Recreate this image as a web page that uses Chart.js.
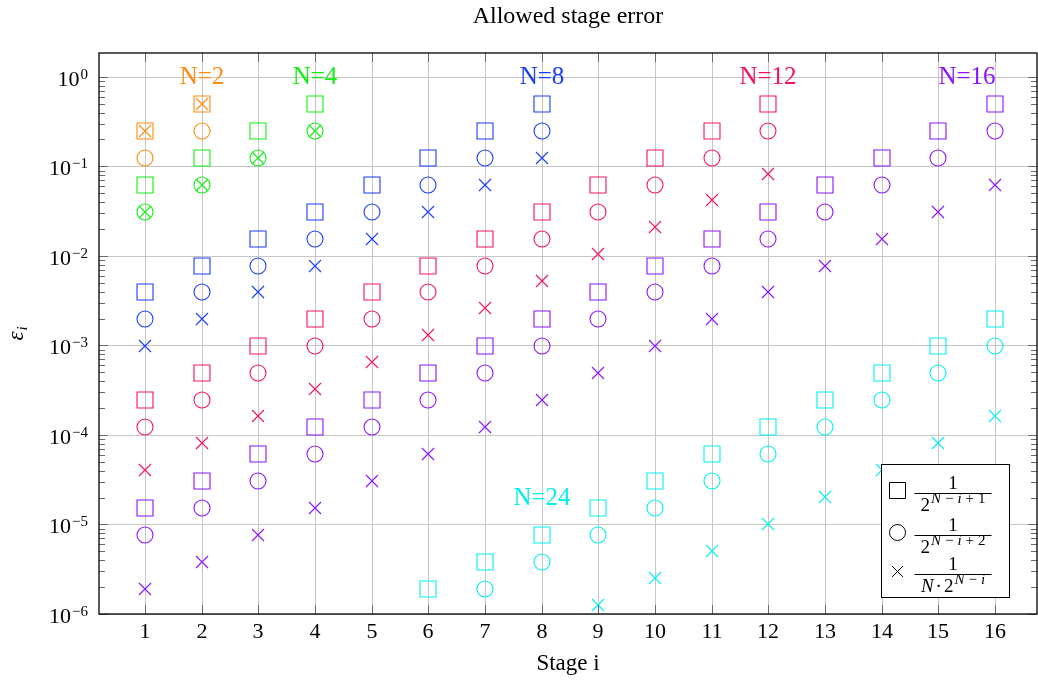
<!DOCTYPE html>
<html>
<head>
<meta charset="utf-8">
<title>Allowed stage error</title>
<script src="https://cdn.jsdelivr.net/npm/chart.js@4.4.1/dist/chart.umd.min.js"></script>
<style>
  html, body { margin: 0; padding: 0; background: #fff; }
  canvas { display: block; }
</style>
</head>
<body>
<canvas id="errChart" width="1038" height="682"></canvas>
<script>
// stage index on the x axis
const stages = [1, 2, 3, 4, 5, 6, 7, 8, 9, 10, 11, 12, 13, 14, 15, 16];

// error bounds per N, index 0 = stage 1 (sq: 1/2^(N-i+1), ci: 1/2^(N-i+2), cr: 1/(N*2^(N-i)))
const sqN2 = [0.25, 0.5];
const ciN2 = [0.125, 0.25];
const crN2 = [0.25, 0.5];

const sqN4 = [0.0625, 0.125, 0.25, 0.5];
const ciN4 = [0.03125, 0.0625, 0.125, 0.25];
const crN4 = [0.03125, 0.0625, 0.125, 0.25];

const sqN8 = [3.906e-3, 7.813e-3, 0.01563, 0.03125, 0.0625, 0.125, 0.25, 0.5];
const ciN8 = [1.953e-3, 3.906e-3, 7.813e-3, 0.01563, 0.03125, 0.0625, 0.125, 0.25];
const crN8 = [9.766e-4, 1.953e-3, 3.906e-3, 7.813e-3, 0.01563, 0.03125, 0.0625, 0.125];

const sqN12 = [2.441e-4, 4.883e-4, 9.766e-4, 1.953e-3, 3.906e-3, 7.813e-3, 0.01563, 0.03125, 0.0625, 0.125, 0.25, 0.5];
const ciN12 = [1.221e-4, 2.441e-4, 4.883e-4, 9.766e-4, 1.953e-3, 3.906e-3, 7.813e-3, 0.01563, 0.03125, 0.0625, 0.125, 0.25];
const crN12 = [4.069e-5, 8.138e-5, 1.628e-4, 3.255e-4, 6.510e-4, 1.302e-3, 2.604e-3, 5.208e-3, 0.01042, 0.02083, 0.04167, 0.08333];

const sqN16 = [1.526e-5, 3.052e-5, 6.104e-5, 1.221e-4, 2.441e-4, 4.883e-4, 9.766e-4, 1.953e-3, 3.906e-3, 7.813e-3, 0.01563, 0.03125, 0.0625, 0.125, 0.25, 0.5];
const ciN16 = [7.629e-6, 1.526e-5, 3.052e-5, 6.104e-5, 1.221e-4, 2.441e-4, 4.883e-4, 9.766e-4, 1.953e-3, 3.906e-3, 7.813e-3, 0.01563, 0.03125, 0.0625, 0.125, 0.25];
const crN16 = [1.907e-6, 3.815e-6, 7.629e-6, 1.526e-5, 3.052e-5, 6.104e-5, 1.221e-4, 2.441e-4, 4.883e-4, 9.766e-4, 1.953e-3, 3.906e-3, 7.813e-3, 0.01563, 0.03125, 0.0625];

const sqN24 = [null, null, null, null, null, 1.907e-6, 3.815e-6, 7.629e-6, 1.526e-5, 3.052e-5, 6.104e-5, 1.221e-4, 2.441e-4, 4.883e-4, 9.766e-4, 1.953e-3];
const ciN24 = [null, null, null, null, null, null, 1.907e-6, 3.815e-6, 7.629e-6, 1.526e-5, 3.052e-5, 6.104e-5, 1.221e-4, 2.441e-4, 4.883e-4, 9.766e-4];
const crN24 = [null, null, null, null, null, null, null, null, 1.272e-6, 2.543e-6, 5.086e-6, 1.017e-5, 2.035e-5, 4.069e-5, 8.138e-5, 1.628e-4];

const groupNames = ['N=2', 'N=4', 'N=8', 'N=12', 'N=16', 'N=24'];
const groupColors = ['#ff8c10', '#10f010', '#1a3dff', '#f5145a', '#8c14ff', '#00f0f0'];
// where each N label sits (stage, value)
const labelStage = [2, 4, 8, 12, 15.5, 8];
const labelValue = [1, 1, 1, 1, 1, 2e-5];

// decade ticks on the y axis
const yTickValues = [1e-6, 1e-5, 1e-4, 1e-3, 1e-2, 1e-1, 1];
const yTickExp = ['\u22126', '\u22125', '\u22124', '\u22123', '\u22122', '\u22121', '0'];

const series = [
  [sqN2, ciN2, crN2],
  [sqN4, ciN4, crN4],
  [sqN8, ciN8, crN8],
  [sqN12, ciN12, crN12],
  [sqN16, ciN16, crN16],
  [sqN24, ciN24, crN24],
];

const markers = [
  { style: 'rect', radius: 11.3 },
  { style: 'circle', radius: 8 },
  { style: 'crossRot', radius: 8.5 },
];

const SERIF = '"Liberation Serif", "DejaVu Serif", serif';

function points(values) {
  return values
    .map((v, k) => ({ x: stages[k], y: v }))
    .filter(p => p.y !== null);
}

const datasets = [];
series.forEach((group, g) => {
  group.forEach((vals, m) => {
    datasets.push({
      label: groupNames[g],
      data: points(vals),
      showLine: false,
      pointStyle: markers[m].style,
      pointRadius: markers[m].radius,
      pointBorderWidth: 1.1,
      pointBorderColor: groupColors[g],
      pointBackgroundColor: 'rgba(0,0,0,0)',
      borderColor: groupColors[g],
      backgroundColor: 'rgba(0,0,0,0)',
    });
  });
});

// text made of pieces with different fonts / offsets
function runsWidth(ctx, runs) {
  let w = 0;
  runs.forEach(r => {
    ctx.font = r.font;
    w += (r.gap || 0) + ctx.measureText(r.text).width;
  });
  return w;
}
function drawRuns(ctx, x, y, runs) {
  runs.forEach(r => {
    x += r.gap || 0;
    ctx.font = r.font;
    ctx.fillText(r.text, x, y + (r.dy || 0));
    x += ctx.measureText(r.text).width;
  });
  return x;
}

const big = '19px ' + SERIF;
const bigIt = 'italic 19px ' + SERIF;
const sup = '15px ' + SERIF;
const supIt = 'italic 15px ' + SERIF;

const legendDenoms = [
  [{ text: '2', font: big }, { text: 'N', font: supIt, dy: -8, gap: 1 }, { text: '\u2212', font: sup, dy: -8, gap: 4 },
   { text: 'i', font: supIt, dy: -8, gap: 4 }, { text: '+', font: sup, dy: -8, gap: 4 }, { text: '1', font: sup, dy: -8, gap: 4 }],
  [{ text: '2', font: big }, { text: 'N', font: supIt, dy: -8, gap: 1 }, { text: '\u2212', font: sup, dy: -8, gap: 4 },
   { text: 'i', font: supIt, dy: -8, gap: 4 }, { text: '+', font: sup, dy: -8, gap: 4 }, { text: '2', font: sup, dy: -8, gap: 4 }],
  [{ text: 'N', font: bigIt }, { text: '\u00b7', font: big, gap: 2 }, { text: '2', font: big, gap: 2 },
   { text: 'N', font: supIt, dy: -8, gap: 1 }, { text: '\u2212', font: sup, dy: -8, gap: 4 }, { text: 'i', font: supIt, dy: -8, gap: 4 }],
];

function drawMarker(ctx, style, x, y) {
  ctx.beginPath();
  if (style === 'rect') {
    ctx.rect(x - 8, y - 8, 16, 16);
  } else if (style === 'circle') {
    ctx.arc(x, y, 8, 0, Math.PI * 2);
  } else {
    ctx.moveTo(x - 5.5, y - 5.5); ctx.lineTo(x + 5.5, y + 5.5);
    ctx.moveTo(x + 5.5, y - 5.5); ctx.lineTo(x - 5.5, y + 5.5);
  }
  ctx.stroke();
}

const decorations = {
  id: 'decorations',
  afterDatasetsDraw(chart) {
    const { ctx, chartArea: a, scales: { x, y } } = chart;
    ctx.save();

    // inner tick marks, major and minor
    ctx.strokeStyle = '#6a6a6a';
    ctx.lineWidth = 1;
    ctx.beginPath();
    stages.forEach(s => {
      const px = Math.round(x.getPixelForValue(s)) + 0.5;
      ctx.moveTo(px, a.bottom); ctx.lineTo(px, a.bottom - 9);
      ctx.moveTo(px, a.top); ctx.lineTo(px, a.top + 9);
    });
    yTickValues.forEach(v => {
      for (let k = 1; k <= 9; k++) {
        const val = v * k;
        if (val > y.max) break;
        const py = Math.round(y.getPixelForValue(val)) + 0.5;
        const len = k === 1 ? 9 : 6;
        ctx.moveTo(a.left, py); ctx.lineTo(a.left + len, py);
        ctx.moveTo(a.right, py); ctx.lineTo(a.right - len, py);
      }
    });
    ctx.stroke();

    // axis frame
    ctx.strokeStyle = '#000';
    ctx.lineWidth = 1.3;
    ctx.strokeRect(a.left, a.top, a.right - a.left, a.bottom - a.top);

    // N labels
    ctx.textAlign = 'center';
    ctx.textBaseline = 'alphabetic';
    ctx.font = '25px ' + SERIF;
    groupNames.forEach((name, g) => {
      ctx.fillStyle = groupColors[g];
      ctx.fillText(name, x.getPixelForValue(labelStage[g]), y.getPixelForValue(labelValue[g]) + 7);
    });

    // x tick labels
    ctx.fillStyle = '#000';
    ctx.font = '22px ' + SERIF;
    stages.forEach(s => ctx.fillText(String(s), x.getPixelForValue(s), a.bottom + 24));

    // y tick labels 10^k
    ctx.textAlign = 'left';
    yTickValues.forEach((v, k) => {
      const py = y.getPixelForValue(v);
      const runs = [{ text: '10', font: '22px ' + SERIF }, { text: yTickExp[k], font: '15px ' + SERIF, dy: -7, gap: 1 }];
      const w = runsWidth(ctx, runs);
      drawRuns(ctx, a.left - 11 - w, py + 9, runs);
    });

    // title and axis labels
    const cx = (a.left + a.right) / 2;
    ctx.textAlign = 'center';
    ctx.font = '24px ' + SERIF;
    ctx.fillText('Allowed stage error', cx, 23);
    ctx.font = '23px ' + SERIF;
    ctx.fillText('Stage i', cx, 670);

    ctx.save();
    ctx.translate(23, (a.top + a.bottom) / 2);
    ctx.rotate(-Math.PI / 2);
    ctx.textAlign = 'left';
    const yl = [{ text: '\u03b5', font: 'italic 23px ' + SERIF }, { text: 'i', font: 'italic 15px ' + SERIF, dy: 4, gap: 1 }];
    drawRuns(ctx, -runsWidth(ctx, yl) / 2, 0, yl);
    ctx.restore();

    // legend box, lower right
    const w = 128, h = 133;
    const right = a.left + 0.97 * (a.right - a.left);
    const bottom = a.bottom - 0.03 * (a.bottom - a.top);
    const left = Math.round(right - w) + 0.5, top = Math.round(bottom - h) + 0.5;
    ctx.fillStyle = '#fff';
    ctx.fillRect(left, top, w, h);
    ctx.strokeStyle = '#000';
    ctx.lineWidth = 1;
    ctx.strokeRect(left, top, w, h);

    const rowY = [26, 68, 107];
    const barL = left + 33, barR = left + 110;
    rowY.forEach((ry, r) => {
      const cy = top + ry;
      ctx.strokeStyle = '#000';
      ctx.lineWidth = 1;
      drawMarker(ctx, markers[r].style, left + 16, cy);

      const barY = cy + 3;
      ctx.beginPath();
      ctx.moveTo(barL, barY); ctx.lineTo(barR, barY);
      ctx.lineWidth = 1;
      ctx.stroke();

      ctx.fillStyle = '#000';
      ctx.textAlign = 'center';
      ctx.font = big;
      ctx.fillText('1', (barL + barR) / 2, barY - 5);

      ctx.textAlign = 'left';
      const runs = legendDenoms[r];
      const dw = runsWidth(ctx, runs);
      drawRuns(ctx, (barL + barR) / 2 - dw / 2, barY + 17, runs);
    });

    ctx.restore();
  }
};

const ctx = document.getElementById('errChart').getContext('2d');
const errChart = new Chart(ctx, {
  type: 'scatter',
  data: { datasets: datasets },
  options: {
    responsive: false,
    animation: false,
    events: [],
    layout: { autoPadding: false, padding: { left: 99, right: 1, top: 53, bottom: 68 } },
    plugins: {
      legend: { display: false },
      tooltip: { enabled: false },
      title: { display: false },
    },
    scales: {
      x: {
        type: 'linear',
        min: 0.19,
        max: 16.74,
        alignToPixels: true,
        afterBuildTicks: scale => { scale.ticks = stages.map(v => ({ value: v })); },
        ticks: { display: false },
        grid: { color: '#c6c6c6', lineWidth: 1, drawTicks: false },
        border: { display: false },
      },
      y: {
        type: 'logarithmic',
        min: 1e-6,
        max: 1.85,
        alignToPixels: true,
        afterBuildTicks: scale => { scale.ticks = yTickValues.map(v => ({ value: v })); },
        ticks: { display: false },
        grid: { color: '#c6c6c6', lineWidth: 1, drawTicks: false },
        border: { display: false },
      },
    },
  },
  plugins: [decorations],
});
</script>
</body>
</html>
